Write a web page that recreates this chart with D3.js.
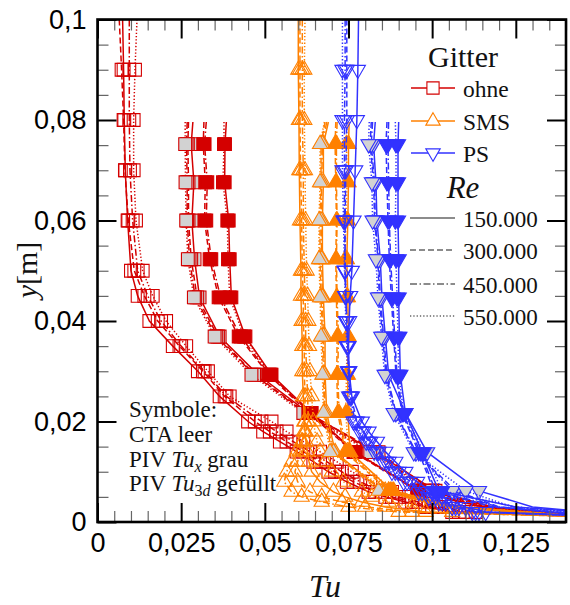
<!DOCTYPE html>
<html>
<head>
<meta charset="utf-8">
<script src="https://cdn.jsdelivr.net/npm/d3@7"></script>
<style>
  body { margin: 0; background: #fff; }
  .serif { font-family: "Liberation Serif", "Times New Roman", serif; fill: #111; }
</style>
</head>
<body>
<div id="chart"></div>
<script>
/* * * * * * * * * * * * * * * *
 *   Tu profiles behind grids  *
 * * * * * * * * * * * * * * * */

// axis ticks
const xTicks = [0, 0.025, 0.05, 0.075, 0.1, 0.125];
const yTicks = [0, 0.02, 0.04, 0.06, 0.08, 0.1];
const reLabels = ['150.000', '300.000', '450.000', '550.000'];
const gridNames = ['ohne', 'SMS', 'PS'];

// measuring heights y [m]
const ctaY = [0.1, 0.09, 0.08, 0.07, 0.06, 0.05, 0.045, 0.04, 0.035, 0.03, 0.025, 0.02,
              0.018, 0.016, 0.014, 0.012, 0.01, 0.008, 0.006, 0.005, 0.004, 0.003, 0.002, 0.0012];
const pivY = [0.0796, 0.0752, 0.0676, 0.06, 0.0523, 0.0447, 0.0369, 0.0293, 0.0217, 0.0139, 0.0062, 0.003, 0.0012];

// Tu values, one row per Re (150k, 300k, 450k, 550k)
const ohneCta = [
    [0.0075, 0.0078, 0.0080, 0.0083, 0.0090, 0.0100, 0.0120, 0.0155, 0.0225, 0.0300, 0.0365, 0.0450, 0.0495, 0.0545, 0.0595, 0.0645, 0.0690, 0.0745, 0.0810, 0.0860, 0.0920, 0.0980, 0.1060, 0.1400],
    [0.0065, 0.0072, 0.0078, 0.0082, 0.0092, 0.0110, 0.0140, 0.0180, 0.0245, 0.0315, 0.0380, 0.0470, 0.0515, 0.0565, 0.0615, 0.0665, 0.0710, 0.0765, 0.0830, 0.0880, 0.0940, 0.1000, 0.1080, 0.1450],
    [0.0095, 0.0095, 0.0095, 0.0097, 0.0105, 0.0120, 0.0150, 0.0190, 0.0250, 0.0320, 0.0385, 0.0490, 0.0535, 0.0585, 0.0635, 0.0685, 0.0730, 0.0785, 0.0850, 0.0900, 0.0960, 0.1020, 0.1100, 0.1500],
    [0.0118, 0.0112, 0.0108, 0.0108, 0.0115, 0.0135, 0.0165, 0.0205, 0.0265, 0.0330, 0.0395, 0.0520, 0.0565, 0.0615, 0.0665, 0.0715, 0.0760, 0.0815, 0.0880, 0.0930, 0.0990, 0.1050, 0.1130, 0.1550]
];
const ohnePivX = [
    [0.0285, 0.0280, 0.0288, 0.0282, 0.0290, 0.0305, 0.0365, 0.0480, 0.0630, 0.0830, 0.1010, 0.1180, 0.1450],
    [0.0272, 0.0270, 0.0272, 0.0272, 0.0280, 0.0298, 0.0360, 0.0470, 0.0625, 0.0840, 0.1000, 0.1170, 0.1430],
    [0.0268, 0.0266, 0.0268, 0.0268, 0.0275, 0.0292, 0.0355, 0.0468, 0.0620, 0.0825, 0.0995, 0.1160, 0.1420],
    [0.0262, 0.0262, 0.0263, 0.0265, 0.0270, 0.0288, 0.0350, 0.0460, 0.0615, 0.0815, 0.0990, 0.1150, 0.1400]
];
const ohnePiv3d = [
    [0.0385, 0.0381, 0.0380, 0.0392, 0.0395, 0.0400, 0.0442, 0.0520, 0.0640, 0.0770, 0.0960, 0.1150, 0.1450],
    [0.0318, 0.0316, 0.0322, 0.0320, 0.0335, 0.0362, 0.0422, 0.0512, 0.0630, 0.0765, 0.0955, 0.1140, 0.1430],
    [0.0325, 0.0320, 0.0328, 0.0325, 0.0340, 0.0368, 0.0428, 0.0515, 0.0635, 0.0768, 0.0958, 0.1145, 0.1440],
    [0.0378, 0.0378, 0.0375, 0.0388, 0.0390, 0.0395, 0.0438, 0.0518, 0.0638, 0.0772, 0.0962, 0.1155, 0.1460]
];
const smsCta = [
    [0.0600, 0.0600, 0.0602, 0.0603, 0.0605, 0.0608, 0.0608, 0.0610, 0.0612, 0.0612, 0.0615, 0.0618, 0.0620, 0.0623, 0.0627, 0.0632, 0.0640, 0.0665, 0.0705, 0.0740, 0.0790, 0.0860, 0.0980, 0.1400],
    [0.0605, 0.0605, 0.0605, 0.0607, 0.0610, 0.0612, 0.0615, 0.0615, 0.0618, 0.0618, 0.0620, 0.0620, 0.0617, 0.0613, 0.0605, 0.0598, 0.0590, 0.0598, 0.0635, 0.0670, 0.0730, 0.0800, 0.0940, 0.1380],
    [0.0612, 0.0612, 0.0612, 0.0615, 0.0615, 0.0618, 0.0620, 0.0622, 0.0622, 0.0625, 0.0628, 0.0630, 0.0622, 0.0610, 0.0595, 0.0580, 0.0565, 0.0558, 0.0580, 0.0610, 0.0670, 0.0750, 0.0900, 0.1420],
    [0.0620, 0.0618, 0.0618, 0.0620, 0.0622, 0.0625, 0.0628, 0.0630, 0.0632, 0.0635, 0.0640, 0.0645, 0.0650, 0.0656, 0.0665, 0.0680, 0.0700, 0.0735, 0.0790, 0.0820, 0.0870, 0.0940, 0.1060, 0.1450]
];
const smsPivX = [
    [0.0690, 0.0675, 0.0675, 0.0672, 0.0672, 0.0675, 0.0680, 0.0680, 0.0685, 0.0710, 0.0850, 0.1050, 0.1400],
    [0.0680, 0.0668, 0.0668, 0.0665, 0.0665, 0.0668, 0.0672, 0.0675, 0.0678, 0.0700, 0.0860, 0.1060, 0.1420],
    [0.0685, 0.0672, 0.0670, 0.0668, 0.0670, 0.0672, 0.0675, 0.0678, 0.0680, 0.0705, 0.0840, 0.1040, 0.1410],
    [0.0678, 0.0665, 0.0665, 0.0662, 0.0662, 0.0665, 0.0668, 0.0672, 0.0675, 0.0695, 0.0870, 0.1070, 0.1430]
];
const smsPiv3d = [
    [0.0752, 0.0750, 0.0750, 0.0748, 0.0745, 0.0748, 0.0750, 0.0748, 0.0748, 0.0755, 0.0880, 0.1080, 0.1430],
    [0.0712, 0.0710, 0.0712, 0.0714, 0.0712, 0.0714, 0.0716, 0.0715, 0.0718, 0.0740, 0.0870, 0.1070, 0.1420],
    [0.0716, 0.0714, 0.0714, 0.0716, 0.0714, 0.0716, 0.0720, 0.0718, 0.0722, 0.0745, 0.0875, 0.1075, 0.1440],
    [0.0746, 0.0744, 0.0746, 0.0742, 0.0740, 0.0744, 0.0746, 0.0744, 0.0742, 0.0750, 0.0885, 0.1090, 0.1450]
];
const psCta = [
    [0.0780, 0.0778, 0.0775, 0.0770, 0.0765, 0.0760, 0.0755, 0.0752, 0.0750, 0.0752, 0.0760, 0.0790, 0.0810, 0.0835, 0.0860, 0.0890, 0.0920, 0.0955, 0.1000, 0.1030, 0.1060, 0.1100, 0.1160, 0.1500],
    [0.0745, 0.0745, 0.0745, 0.0742, 0.0740, 0.0740, 0.0742, 0.0745, 0.0748, 0.0752, 0.0758, 0.0775, 0.0795, 0.0815, 0.0840, 0.0870, 0.0900, 0.0935, 0.0980, 0.1010, 0.1040, 0.1080, 0.1140, 0.1480],
    [0.0740, 0.0740, 0.0738, 0.0738, 0.0738, 0.0740, 0.0742, 0.0745, 0.0748, 0.0750, 0.0755, 0.0770, 0.0790, 0.0810, 0.0835, 0.0862, 0.0890, 0.0925, 0.0970, 0.1000, 0.1030, 0.1070, 0.1130, 0.1460],
    [0.0732, 0.0732, 0.0732, 0.0732, 0.0735, 0.0738, 0.0740, 0.0742, 0.0745, 0.0748, 0.0752, 0.0765, 0.0783, 0.0803, 0.0827, 0.0853, 0.0880, 0.0915, 0.0960, 0.0990, 0.1020, 0.1060, 0.1120, 0.1450]
];
const psPivX = [
    [0.0830, 0.0825, 0.0832, 0.0835, 0.0845, 0.0850, 0.0860, 0.0870, 0.0920, 0.0985, 0.1140, 0.1300, 0.1600],
    [0.0818, 0.0815, 0.0825, 0.0828, 0.0838, 0.0842, 0.0852, 0.0862, 0.0890, 0.0950, 0.1070, 0.1200, 0.1480],
    [0.0822, 0.0818, 0.0828, 0.0830, 0.0840, 0.0845, 0.0855, 0.0865, 0.0892, 0.0952, 0.1060, 0.1190, 0.1470],
    [0.0812, 0.0810, 0.0820, 0.0822, 0.0832, 0.0838, 0.0848, 0.0858, 0.0885, 0.0945, 0.1100, 0.1240, 0.1520]
];
const psPiv3d = [
    [0.0900, 0.0898, 0.0898, 0.0898, 0.0900, 0.0900, 0.0902, 0.0905, 0.0920, 0.0970, 0.1020, 0.1250, 0.1600],
    [0.0865, 0.0862, 0.0865, 0.0868, 0.0872, 0.0878, 0.0885, 0.0892, 0.0910, 0.0960, 0.1005, 0.1180, 0.1500],
    [0.0870, 0.0868, 0.0870, 0.0872, 0.0876, 0.0882, 0.0888, 0.0895, 0.0912, 0.0965, 0.1010, 0.1200, 0.1520],
    [0.0890, 0.0892, 0.0892, 0.0890, 0.0892, 0.0895, 0.0898, 0.0900, 0.0915, 0.0975, 0.1030, 0.1250, 0.1560]
];

// styles
const colors = ['#d40000', '#ff8000', '#3232ff'];
const shapes = [d3.symbolSquare, d3.symbolTriangle, d3.symbolTriangle];
const shapeSize = [165, 100, 100];
const shapeRot = [0, 0, 180];
const reDash = [null, '6,3', '7,2.5,1.5,2.5', '1.3,2'];
const grayFill = '#d2d2d2';

const grids = [
    {cta: ohneCta, pivX: ohnePivX, piv3d: ohnePiv3d},
    {cta: smsCta, pivX: smsPivX, piv3d: smsPiv3d},
    {cta: psCta, pivX: psPivX, piv3d: psPiv3d}
];

const width = 570, height = 605;
const margin = {top: 19.5, right: 4, bottom: 83, left: 97.5};
const x0 = margin.left, x1 = width - margin.right;
const y0 = height - margin.bottom, y1 = margin.top;

const svg = d3.select('#chart').append('svg')
    .attr('width', width).attr('height', height);

const x = d3.scaleLinear().domain([0, 0.14]).range([x0, x1]);
const y = d3.scaleLinear().domain([0, 0.1]).range([y0, y1]);

svg.append('clipPath').attr('id', 'clip')
    .append('rect')
    .attr('x', x0).attr('y', y1)
    .attr('width', x1 - x0).attr('height', y0 - y1);

const plot = svg.append('g').attr('clip-path', 'url(#clip)');

const line = d3.line().x(d => x(d[0])).y(d => y(d[1]));

// one profile: line + marks (marks only on the measured range)
function drawProfile(xs, ys, color, gi, ri, fill, markFrom, markTo) {
    const pts = d3.zip(xs, ys);
    plot.append('path')
        .datum(pts)
        .attr('d', line)
        .attr('fill', 'none')
        .attr('stroke', color)
        .attr('stroke-width', 1.5)
        .attr('stroke-dasharray', reDash[ri]);

    const sym = d3.symbol().type(shapes[gi]).size(shapeSize[gi]);
    plot.selectAll(null)
        .data(pts.slice(markFrom, markTo))
        .enter()
        .append('path')
        .attr('d', sym)
        .attr('transform', d => `translate(${x(d[0])},${y(d[1])}) rotate(${shapeRot[gi]})`)
        .attr('fill', fill)
        .attr('stroke', color)
        .attr('stroke-width', 1.1);
}

grids.forEach((g, gi) => {
    const c = colors[gi];
    g.cta.forEach((xs, ri) => drawProfile(xs, ctaY, c, gi, ri, 'none', 1, ctaY.length - 1));
    g.pivX.forEach((xs, ri) => drawProfile(xs, pivY, c, gi, ri, grayFill, 1, pivY.length - 2));
    g.piv3d.forEach((xs, ri) => drawProfile(xs, pivY, c, gi, ri, c, 1, pivY.length - 2));
});

// Axes
const fmt = d3.formatLocale({decimal: ',', thousands: '.', grouping: [3], currency: ['', '']}).format('~g');
const xMinor = d3.range(0, 0.1401, 0.005).filter(v => !xTicks.some(t => Math.abs(t - v) < 1e-9));
const yMinor = d3.range(0, 0.1001, 0.005).filter(v => !yTicks.some(t => Math.abs(t - v) < 1e-9));

function styleAxis(g, major) {
    g.select('.domain').remove();
    g.selectAll('.tick line')
        .attr('stroke', major ? '#000' : '#666')
        .attr('stroke-width', major ? 2 : 1.2);
    g.selectAll('text')
        .attr('font-family', '"Liberation Sans", Arial, sans-serif')
        .attr('font-size', 27)
        .attr('fill', '#000');
}

const axisDefs = [
    [d3.axisBottom, x, `translate(0,${y0})`, xTicks, xMinor, true],
    [d3.axisTop, x, `translate(0,${y1})`, xTicks, xMinor, false],
    [d3.axisLeft, y, `translate(${x0},0)`, yTicks, yMinor, true],
    [d3.axisRight, y, `translate(${x1},0)`, yTicks, yMinor, false]
];
axisDefs.forEach(([makeAxis, scale, tr, major, minor, labels]) => {
    svg.append('g').attr('transform', tr)
        .call(makeAxis(scale).tickValues(minor).tickSize(-11).tickFormat(''))
        .call(g => styleAxis(g, false));
    svg.append('g').attr('transform', tr)
        .call(makeAxis(scale).tickValues(major).tickSize(-19).tickPadding(labels ? 11 : 0)
            .tickFormat(labels ? fmt : ''))
        .call(g => styleAxis(g, true));
});

svg.append('rect')
    .attr('x', x0).attr('y', y1)
    .attr('width', x1 - x0).attr('height', y0 - y1)
    .attr('fill', 'none').attr('stroke', '#000').attr('stroke-width', 2.6);

// axis titles
svg.append('text').attr('class', 'serif')
    .attr('x', 325).attr('y', 597)
    .attr('text-anchor', 'middle')
    .attr('font-size', 32).attr('font-style', 'italic')
    .text('Tu');

const yl = svg.append('text').attr('class', 'serif')
    .attr('transform', 'translate(37,270) rotate(-90)')
    .attr('text-anchor', 'middle')
    .attr('font-size', 30);
yl.append('tspan').attr('font-style', 'italic').text('y');
yl.append('tspan').text('[m]');

// Legend
const lg = svg.append('g');
lg.append('text').attr('class', 'serif')
    .attr('x', 463).attr('y', 67).attr('text-anchor', 'middle')
    .attr('font-size', 30).text('Gitter');

const gridRowY = [88, 121, 153];
gridNames.forEach((n, i) => {
    const ly = gridRowY[i];
    lg.append('line').attr('x1', 411).attr('x2', 455).attr('y1', ly).attr('y2', ly)
        .attr('stroke', colors[i]).attr('stroke-width', 1.5);
    lg.append('path')
        .attr('d', d3.symbol().type(shapes[i]).size(shapeSize[i] * 0.9))
        .attr('transform', `translate(433,${ly}) rotate(${shapeRot[i]})`)
        .attr('fill', '#fff').attr('stroke', colors[i]).attr('stroke-width', 1.1);
    lg.append('text').attr('class', 'serif')
        .attr('x', 463).attr('y', ly + 9).attr('font-size', 23.5).text(n);
});

lg.append('text').attr('class', 'serif')
    .attr('x', 463).attr('y', 198).attr('text-anchor', 'middle')
    .attr('font-size', 31).attr('font-style', 'italic').text('Re');

const reRowY = [218, 250, 284, 316];
reLabels.forEach((r, i) => {
    const ly = reRowY[i];
    lg.append('line').attr('x1', 410).attr('x2', 455).attr('y1', ly).attr('y2', ly)
        .attr('stroke', '#666').attr('stroke-width', 1.5)
        .attr('stroke-dasharray', reDash[i]);
    lg.append('text').attr('class', 'serif')
        .attr('x', 463).attr('y', ly + 9).attr('font-size', 23).text(r);
});

// symbol note
const note = svg.append('g').attr('class', 'serif').attr('font-size', 23);
note.append('text').attr('x', 129).attr('y', 417).text('Symbole:');
note.append('text').attr('x', 129).attr('y', 442).text('CTA leer');
const n3 = note.append('text').attr('x', 129).attr('y', 467);
n3.append('tspan').text('PIV ');
n3.append('tspan').attr('font-style', 'italic').text('Tu');
n3.append('tspan').attr('font-style', 'italic').attr('font-size', 16).attr('dy', 5).text('x');
n3.append('tspan').attr('dy', -5).text(' grau');
const n4 = note.append('text').attr('x', 129).attr('y', 491);
n4.append('tspan').text('PIV ');
n4.append('tspan').attr('font-style', 'italic').text('Tu');
n4.append('tspan').attr('font-size', 16).attr('dy', 5).text('3');
n4.append('tspan').attr('font-style', 'italic').attr('font-size', 16).text('d');
n4.append('tspan').attr('dy', -5).text(' gefüllt');
</script>
</body>
</html>
